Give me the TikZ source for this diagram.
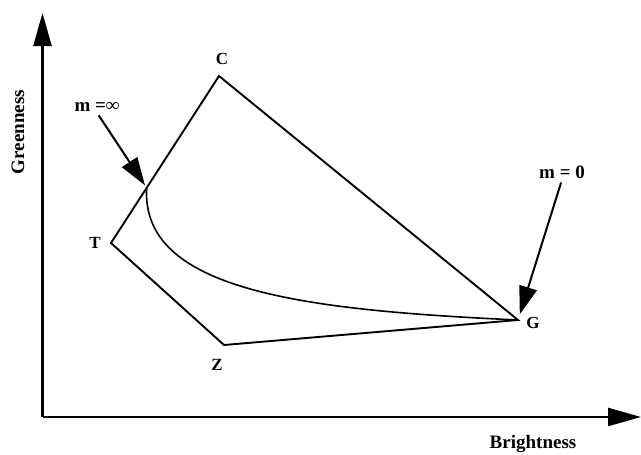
\documentclass[tikz,border=0pt]{standalone}
\usepackage{fontspec}
\setmainfont{Liberation Serif}
\usetikzlibrary{arrows.meta,calc}
\begin{document}
\begin{tikzpicture}[x=1pt,y=-1pt,
  axis/.style={line width=2.4pt,-{Triangle[length=33pt,width=18pt]}},
  edge/.style={line width=1.9pt,line join=miter},
  pointer/.style={line width=2pt,-{Triangle[length=28pt,width=18pt]}},
  lbl/.style={font=\fontsize{17}{19}\selectfont\bfseries,inner sep=1pt}]
\useasboundingbox (0,0) rectangle (641,455);
% axes
\coordinate (O) at (42.5,417);
\coordinate (xend) at (641,417);
\coordinate (yend) at (42.5,13);
\draw[axis] (O) -- (xend);
\draw[axis] (O) -- (yend);
\node[lbl,font=\fontsize{19}{21}\selectfont\bfseries] (xlab) at (533,444) {Brightness};
\node[lbl,font=\fontsize{19}{21}\selectfont\bfseries,rotate=90] (ylab) at (18,132) {Greenness};
% corners
\coordinate (C) at (219,76);
\coordinate (T) at (111,243);
\coordinate (Z) at (224,345);
\coordinate (G) at (518,320);
\node[lbl] (Clab) at (222,59) {C};
\node[lbl] (Tlab) at (95,243) {T};
\node[lbl] (Zlab) at (217,365) {Z};
\node[lbl] (Glab) at (533,323) {G};
\draw[edge] (C) -- (T) -- (Z) -- (G) -- cycle;
% curve between the two limits
\coordinate (minf) at ($(T)!0.33!(C)$);
\draw[line width=1.6pt] (minf) .. controls (141,290) and (300,310) .. (G);
% slope labels
\node[lbl,font=\fontsize{19}{21}\selectfont\bfseries] (inflab) at (97,107) {m =∞};
\node[lbl,font=\fontsize{19}{21}\selectfont\bfseries] (zerolab) at (562,172) {m = 0};
\draw[pointer,shorten <=3pt,shorten >=3pt] (inflab.south) -- (minf);
\draw[pointer,shorten <=3pt,shorten >=6pt] (zerolab.south) -- (G);
\end{tikzpicture}
\end{document}
